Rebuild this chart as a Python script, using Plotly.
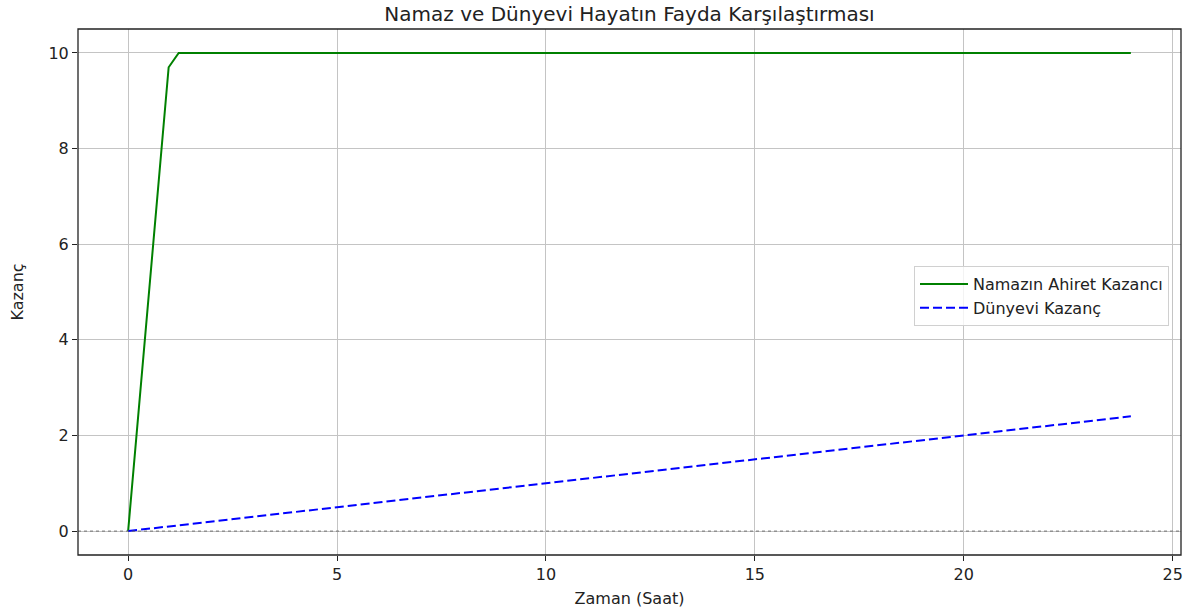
import plotly.graph_objects as go

# Data
zaman_namaz = [0, 0.97, 1.21, 24]
namaz_kazanc = [0, 9.7, 10, 10]
zaman_dunya = [0, 24]
dunyevi_kazanc = [0, 2.4]

x_ticks = [0, 5, 10, 15, 20, 25]
y_ticks = [0, 2, 4, 6, 8, 10]

FONT = "DejaVu Sans"
TXT = "#222222"

fig = go.Figure()
fig.add_trace(go.Scatter(x=zaman_namaz, y=namaz_kazanc, mode="lines",
                         name="Namazın Ahiret Kazancı",
                         line=dict(color="#008000", width=2)))
fig.add_trace(go.Scatter(x=zaman_dunya, y=dunyevi_kazanc, mode="lines",
                         name="Dünyevi Kazanç",
                         line=dict(color="#0000ff", width=2, dash="9px,4px")))

# horizontal reference line at zero (black dotted)
fig.add_shape(type="line", xref="paper", x0=0, x1=1, yref="y", y0=0, y1=0,
              line=dict(color="#555555", width=0.8, dash="dot"), layer="above")
# axes frame
fig.add_shape(type="rect", xref="paper", yref="paper", x0=0, x1=1, y0=0, y1=1,
              line=dict(color=TXT, width=1.3), layer="above")

axis_common = dict(showline=False, automargin=False,
                   showgrid=True, gridcolor="#c4c4c4", gridwidth=1,
                   zeroline=False, ticks="outside", ticklen=5, tickcolor=TXT,
                   tickfont=dict(family=FONT, size=16, color=TXT))

fig.update_layout(
    width=1186, height=609,
    margin=dict(l=78, r=5, t=29, b=54, autoexpand=False),
    paper_bgcolor="white", plot_bgcolor="white",
    title=dict(text="Namaz ve Dünyevi Hayatın Fayda Karşılaştırması",
               x=(78 + 1181) / 2 / 1186, xanchor="center",
               y=1 - 14 / 609, yanchor="middle", yref="container",
               font=dict(family=FONT, size=20, color=TXT)),
    xaxis=dict(range=[-1.2, 25.2], tickvals=x_ticks,
               title=dict(text="Zaman (Saat)", standoff=9,
                          font=dict(family=FONT, size=16, color=TXT)),
               **axis_common),
    yaxis=dict(range=[-0.5, 10.5], tickvals=y_ticks,
               title=dict(text="Kazanç", standoff=20,
                          font=dict(family=FONT, size=16, color=TXT)),
               **axis_common),
    legend=dict(x=(1169 - 78) / (1181 - 78), xanchor="right",
                y=(555 - 266) / (555 - 29), yanchor="top",
                bgcolor="rgba(255,255,255,0.8)", bordercolor="#d0d0d0", borderwidth=1,
                font=dict(family=FONT, size=16, color=TXT),
                itemwidth=48),
    showlegend=True,
)

fig.write_html("out.html", config={"displayModeBar": False},
               post_script="document.body.style.margin='0';document.body.style.overflow='hidden';")
